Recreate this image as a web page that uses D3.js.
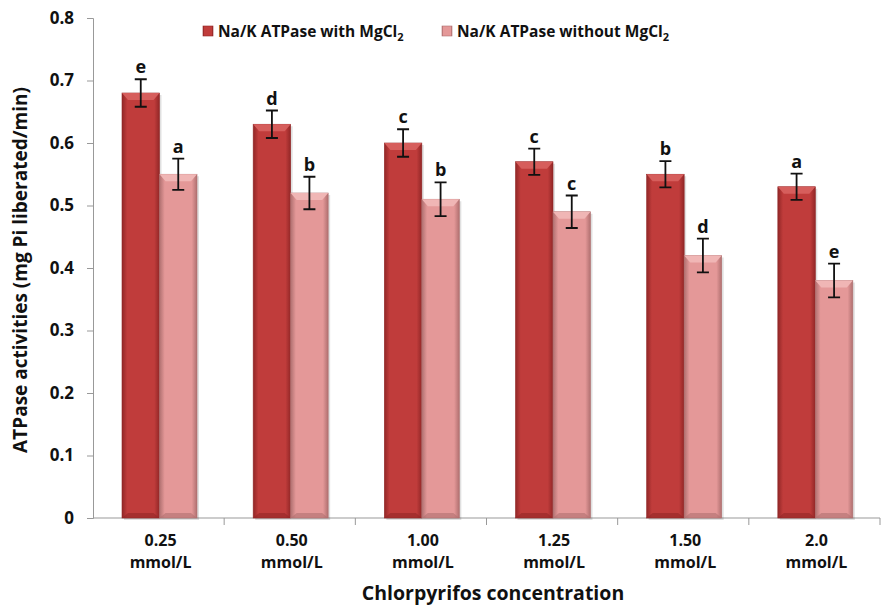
<!DOCTYPE html>
<html>
<head>
<meta charset="utf-8">
<script src="https://cdn.jsdelivr.net/npm/d3@7"></script>
<style>
  body { margin: 0; background: #fff; }
  text { font-family: "Open Sans", Lato, sans-serif; font-weight: bold; fill: #111; }
</style>
</head>
<body>
<svg width="885" height="606"></svg>
<script>
// data
var concs = ["0.25", "0.50", "1.00", "1.25", "1.50", "2.0"];
var withMg = [0.68, 0.63, 0.60, 0.57, 0.55, 0.53];
var withoutMg = [0.55, 0.52, 0.51, 0.49, 0.42, 0.38];
var withErr = [0.022, 0.022, 0.022, 0.021, 0.021, 0.021];
var withoutErr = [0.025, 0.026, 0.027, 0.026, 0.027, 0.027];
var withLetters = ["e", "d", "c", "c", "b", "a"];
var withoutLetters = ["a", "b", "b", "c", "d", "e"];
var seriesNames = ["Na/K ATPase with MgCl", "Na/K ATPase without MgCl"];
var yTicks = [0, 0.1, 0.2, 0.3, 0.4, 0.5, 0.6, 0.7, 0.8];

var svg = d3.select("svg");
var mLeft = 93, mRight = 880, mTop = 18, mBottom = 518;

var x = d3.scaleBand().domain(concs).range([mLeft, mRight]).paddingInner(0).paddingOuter(0);
var x1 = d3.scaleBand().domain([0, 1]).range([29, 104]);
var y = d3.scaleLinear().domain([0, 0.8]).range([mBottom, mTop]);

var colors = [
  {mid: "#c03c3b", edge: "#922727", top: "#d65e5c"},
  {mid: "#e49898", edge: "#b07070", top: "#f0b6b5"}
];

var defs = svg.append("defs");
colors.forEach(function(c, i) {
  var g = defs.append("linearGradient").attr("id", "grad" + i)
      .attr("x1", "0%").attr("x2", "100%").attr("y1", "0%").attr("y2", "0%");
  g.append("stop").attr("offset", "0%").attr("stop-color", c.edge);
  g.append("stop").attr("offset", "14%").attr("stop-color", c.mid);
  g.append("stop").attr("offset", "86%").attr("stop-color", c.mid);
  g.append("stop").attr("offset", "100%").attr("stop-color", c.edge);
});

// axes
var yAxis = d3.axisLeft(y).tickValues(yTicks).tickSize(6).tickFormat(function(d) {
  return d === 0 ? "0" : d3.format(".1f")(d);
});
var yg = svg.append("g").attr("transform", "translate(" + mLeft + ",0)").call(yAxis);
yg.selectAll("text").attr("x", -19).style("font-size", "17px").attr("fill", "#111");
yg.selectAll("line, path").attr("stroke", "#999");

svg.append("line").attr("x1", mLeft).attr("x2", mRight).attr("y1", mBottom).attr("y2", mBottom)
  .attr("stroke", "#999");
svg.selectAll(".xtick").data(concs).enter().append("line")
  .attr("x1", function(d) { return x(d) + x.bandwidth(); })
  .attr("x2", function(d) { return x(d) + x.bandwidth(); })
  .attr("y1", mBottom).attr("y2", mBottom + 7).attr("stroke", "#999");

var series = [withMg, withoutMg];
var errs = [withErr, withoutErr];
var letters = [withLetters, withoutLetters];

series.forEach(function(vals, s) {
  var g = svg.append("g");
  var bw = x1.bandwidth();
  var groups = g.selectAll("g").data(concs).enter().append("g")
    .attr("transform", function(d) { return "translate(" + (x(d) + x1(s)) + ",0)"; });
  groups.append("rect")
    .attr("x", 2).attr("y", function(d, i) { return y(vals[i]) + 2; })
    .attr("width", bw).attr("height", function(d, i) { return mBottom - y(vals[i]); })
    .attr("fill", "#000").attr("opacity", 0.12);
  groups.append("rect")
    .attr("y", function(d, i) { return y(vals[i]); })
    .attr("width", bw).attr("height", function(d, i) { return mBottom - y(vals[i]); })
    .attr("fill", "url(#grad" + s + ")")
    .attr("stroke", colors[s].edge).attr("stroke-width", 0.6);
  groups.append("path")
    .attr("d", function(d, i) {
      var t = y(vals[i]);
      return "M0," + t + "L" + bw + "," + t + "L" + (bw - 6) + "," + (t + 7) + "L6," + (t + 7) + "Z";
    })
    .attr("fill", colors[s].top);
  groups.append("path")
    .attr("d", function() {
      return "M0," + mBottom + "L" + bw + "," + mBottom + "L" + (bw - 6) + "," + (mBottom - 5) + "L6," + (mBottom - 5) + "Z";
    })
    .attr("fill", colors[s].edge).attr("opacity", 0.6);
  // error bars
  var cx = bw / 2;
  groups.append("path")
    .attr("d", function(d, i) {
      var hi = y(vals[i] + errs[s][i]), lo = y(vals[i] - errs[s][i]);
      return "M" + (cx - 6) + "," + hi + "H" + (cx + 6) + "M" + cx + "," + hi + "V" + lo +
        "M" + (cx - 6) + "," + lo + "H" + (cx + 6);
    })
    .attr("stroke", "#111").attr("stroke-width", 1.8).attr("fill", "none");
  groups.append("text")
    .attr("x", cx).attr("y", function(d, i) { return y(vals[i] + errs[s][i]) - 6; })
    .attr("text-anchor", "middle").style("font-size", "18px")
    .text(function(d, i) { return letters[s][i]; });
});

// x labels, two lines each
var xc = function(d) { return x(d) + x.bandwidth() / 2 + 2; };
svg.selectAll(".xl1").data(concs).enter().append("text")
  .attr("x", xc).attr("y", 546).attr("text-anchor", "middle").style("font-size", "16px")
  .text(function(d) { return d; });
svg.selectAll(".xl2").data(concs).enter().append("text")
  .attr("x", xc).attr("y", 568).attr("text-anchor", "middle").style("font-size", "16px")
  .text("mmol/L");

svg.append("text").attr("x", 493).attr("y", 600).attr("text-anchor", "middle")
  .style("font-size", "19.5px").text("Chlorpyrifos concentration");
svg.append("text").attr("transform", "translate(27,270) rotate(-90)").attr("text-anchor", "middle")
  .style("font-size", "19px").text("ATPase activities (mg Pi liberated/min)");

// legend
var legX = [203, 442];
seriesNames.forEach(function(n, s) {
  var lg = svg.append("g").attr("transform", "translate(" + legX[s] + ",26)");
  lg.append("rect").attr("width", 10).attr("height", 10)
    .attr("fill", "url(#grad" + s + ")").attr("stroke", colors[s].edge).attr("stroke-width", 0.6);
  var t = lg.append("text").attr("x", 15).attr("y", 11).style("font-size", "15.5px");
  t.append("tspan").text(n);
  t.append("tspan").attr("dy", 4).style("font-size", "11px").text("2");
});
</script>
</body>
</html>
